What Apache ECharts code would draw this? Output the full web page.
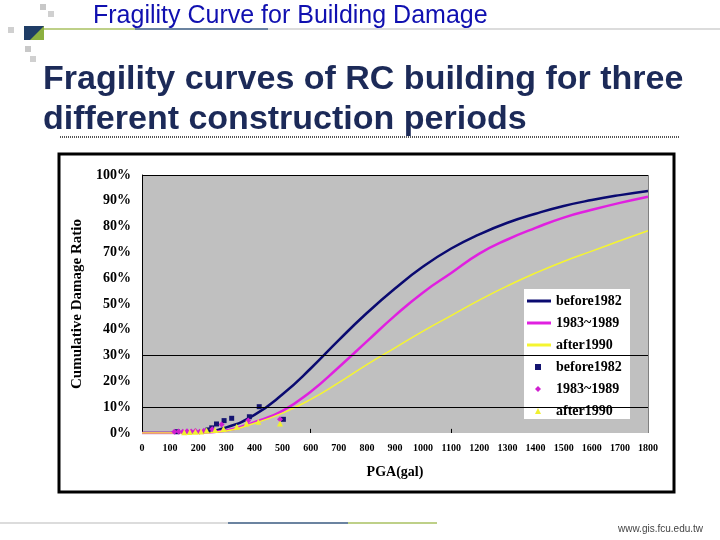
<!DOCTYPE html>
<html>
<head>
<meta charset="utf-8">
<script src="https://cdn.jsdelivr.net/npm/echarts@6/dist/echarts.min.js"></script>
<style>
  html, body { margin: 0; padding: 0; background: #fff; }
  #chart { width: 720px; height: 540px; }
</style>
</head>
<body>
<div id="chart"></div>
<script>
  // PGA (gal) sample points for the fitted curves
  const pga = [0, 100, 200, 300, 400, 500, 600, 700, 800, 900, 1000, 1100, 1200, 1300, 1400, 1500, 1600, 1700, 1800];
  // cumulative damage ratio (%)
  const curveBefore1982 = [0, 0, 0.3, 2.2, 7, 15, 25, 36, 46.5, 56, 64.5, 71.5, 77, 81.5, 85, 88, 90.3, 92.2, 93.8];
  const curve1983to1989 = [0, 0, 0.1, 1, 4.2, 8.6, 16, 25.5, 35.5, 45.5, 54.5, 62, 69.5, 75, 79.5, 83.5, 86.5, 89.2, 91.6];
  const curveAfter1990 = [0, 0, 0.1, 0.8, 3.8, 7.7, 13, 19.5, 26.5, 33, 39.5, 45.5, 51.5, 57, 62, 66.5, 70.5, 74.5, 78.4];

  // observed points [PGA, %]
  const obsBefore1982 = [[125, 0.5], [235, 1.2], [248, 2], [265, 3.5], [292, 4.8], [319, 5.7], [382, 6.3], [417, 10.2], [503, 5.3]];
  const obs1983to1989 = [[115, 0.5], [130, 0.6], [145, 0.5], [160, 0.7], [175, 0.6], [190, 0.8], [205, 0.5], [220, 0.9], [250, 1.5], [283, 3.3], [378, 4.8], [491, 5.3]];
  const obsAfter1990 = [[150, 0.3], [170, 0.4], [190, 0.5], [210, 0.6], [230, 1.0], [260, 1.2], [290, 1.6], [337, 2.4], [372, 3.7], [414, 4.4], [491, 3.7]];

  const gridLines = [10, 30];
  const stubTicks = [600, 1100];
  const lineNames = ['before1982', '1983~1989', 'after1990'];
  const pointNames = ['before1982 ', '1983~1989 ', 'after1990 '];

  const pairs = (ys) => pga.map((x, i) => [x, ys[i]]);
  const serif = '"Liberation Serif", "DejaVu Serif", serif';
  const legendText = { fontFamily: serif, fontWeight: 'bold', fontSize: 14, color: '#000' };

  const myChart = echarts.init(document.getElementById('chart'));

  myChart.setOption({
    backgroundColor: '#ffffff',
    animation: false,
    graphic: [
      // chart frame
      { type: 'rect', z: -10, shape: { x: 59, y: 154, width: 615, height: 338 },
        style: { fill: '#fff', stroke: '#000', lineWidth: 3 } },
      // legend box
      { type: 'rect', z: 3, shape: { x: 524, y: 289, width: 106, height: 130 },
        style: { fill: '#fff' } },
      // header
      { type: 'text', left: 93, top: 4,
        style: { text: 'Fragility Curve for Building Damage', fill: '#1010b0',
          font: '25px "Liberation Sans", Arial, sans-serif' } },
      { type: 'line', shape: { x1: 37, y1: 29, x2: 135, y2: 29 }, style: { stroke: '#a8c060', lineWidth: 1.5 } },
      { type: 'line', shape: { x1: 135, y1: 29, x2: 268, y2: 29 }, style: { stroke: '#3a5a80', lineWidth: 1.5 } },
      { type: 'line', shape: { x1: 268, y1: 29, x2: 720, y2: 29 }, style: { stroke: '#d0d0d0', lineWidth: 1.5 } },
      // logo squares
      { type: 'rect', shape: { x: 40, y: 4, width: 6, height: 6 }, style: { fill: '#c8c8c8' } },
      { type: 'rect', shape: { x: 48, y: 11, width: 6, height: 6 }, style: { fill: '#d0d0d0' } },
      { type: 'rect', shape: { x: 8, y: 27, width: 6, height: 6 }, style: { fill: '#d0d0d0' } },
      { type: 'rect', shape: { x: 25, y: 46, width: 6, height: 6 }, style: { fill: '#c8c8c8' } },
      { type: 'rect', shape: { x: 30, y: 56, width: 6, height: 6 }, style: { fill: '#d0d0d0' } },
      { type: 'rect', shape: { x: 24, y: 26, width: 20, height: 14 }, style: { fill: '#1f3d66' } },
      { type: 'polygon', shape: { points: [[30, 40], [44, 26], [44, 40]] }, style: { fill: '#8cb040' } },
      // main heading
      { type: 'text', left: 43, top: 60,
        style: { text: 'Fragility curves of RC building for three\ndifferent construction periods',
          fill: '#1c2a58', font: 'bold 34px "Liberation Sans", Arial, sans-serif', lineHeight: 40 } },
      { type: 'line', shape: { x1: 60, y1: 137, x2: 680, y2: 137 },
        style: { stroke: '#555', lineWidth: 2, lineDash: [1, 1] } },
      // footer
      { type: 'line', shape: { x1: 0, y1: 523, x2: 228, y2: 523 }, style: { stroke: '#d0d0d0', lineWidth: 1.5 } },
      { type: 'line', shape: { x1: 228, y1: 523, x2: 348, y2: 523 }, style: { stroke: '#3a5a80', lineWidth: 1.5 } },
      { type: 'line', shape: { x1: 348, y1: 523, x2: 437, y2: 523 }, style: { stroke: '#a8c060', lineWidth: 1.5 } },
      { type: 'text', left: 618, top: 524,
        style: { text: 'www.gis.fcu.edu.tw', fill: '#444', font: '10px "Liberation Sans", Arial, sans-serif' } }
    ],
    grid: {
      left: 142,
      top: 175,
      width: 506,
      height: 258,
      show: true,
      backgroundColor: '#c0c0c0',
      borderWidth: 0
    },
    legend: [
      {
        orient: 'vertical',
        left: 527,
        top: 294,
        padding: 0,
        icon: 'rect',
        itemWidth: 24,
        itemHeight: 3,
        itemGap: 8,
        textStyle: legendText,
        data: lineNames
      },
      {
        orient: 'vertical',
        left: 535,
        top: 360,
        padding: 0,
        itemWidth: 6,
        itemHeight: 6,
        itemGap: 8,
        textStyle: Object.assign({ padding: [0, 0, 0, 10] }, legendText),
        data: pointNames
      }
    ],
    xAxis: {
      type: 'value',
      min: 0,
      max: 1800,
      interval: 100,
      name: 'PGA(gal)',
      nameLocation: 'middle',
      nameGap: 32,
      nameTextStyle: { fontFamily: serif, fontWeight: 'bold', fontSize: 14, color: '#000' },
      axisLine: { show: false },
      axisTick: { show: false },
      splitLine: { show: false },
      axisLabel: { fontFamily: serif, fontWeight: 'bold', fontSize: 10, color: '#000', margin: 10,
        formatter: (v) => String(v) }
    },
    yAxis: {
      type: 'value',
      min: 0,
      max: 100,
      interval: 10,
      name: 'Cumulative Damage Ratio',
      nameLocation: 'middle',
      nameGap: 53,
      nameTextStyle: { fontFamily: serif, fontWeight: 'bold', fontSize: 15, color: '#000' },
      axisLine: { show: true, lineStyle: { color: '#000', width: 1 } },
      axisTick: { show: false },
      splitLine: { show: false },
      axisLabel: { fontFamily: serif, fontWeight: 'bold', fontSize: 14, color: '#000', margin: 11,
        formatter: '{value}%' }
    },
    series: [
      {
        name: lineNames[0],
        type: 'line',
        smooth: true,
        symbol: 'none',
        data: pairs(curveBefore1982),
        lineStyle: { color: '#0a0a70', width: 2.5 },
        itemStyle: { color: '#0a0a70' },
        markLine: {
          silent: true,
          symbol: 'none',
          label: { show: false },
          lineStyle: { color: '#000', width: 1, type: 'solid' },
          data: gridLines.map((v) => ({ yAxis: v })).concat([
            { yAxis: 100 },
            { xAxis: 1800, lineStyle: { color: '#808080', width: 1, type: 'solid' } }
          ]).concat(stubTicks.map((t) => [{ coord: [t, 0] }, { coord: [t, 1.6] }]))
        },
        z: 2
      },
      {
        name: lineNames[1],
        type: 'line',
        smooth: true,
        symbol: 'none',
        data: pairs(curve1983to1989),
        lineStyle: { color: '#e020e0', width: 2.5 },
        itemStyle: { color: '#e020e0' },
        z: 2
      },
      {
        name: lineNames[2],
        type: 'line',
        smooth: true,
        symbol: 'none',
        data: pairs(curveAfter1990),
        lineStyle: { color: '#f5f530', width: 1.5 },
        itemStyle: { color: '#f5f530' },
        z: 2
      },
      {
        name: pointNames[0],
        type: 'scatter',
        symbol: 'rect',
        symbolSize: 5,
        data: obsBefore1982,
        itemStyle: { color: '#141470', opacity: 1 },
        z: 2
      },
      {
        name: pointNames[1],
        type: 'scatter',
        symbol: 'diamond',
        symbolSize: 6,
        data: obs1983to1989,
        itemStyle: { color: '#d020d0', opacity: 1 },
        z: 2
      },
      {
        name: pointNames[2],
        type: 'scatter',
        symbol: 'triangle',
        symbolSize: 6,
        data: obsAfter1990,
        itemStyle: { color: '#f0f030', opacity: 1 },
        z: 2
      }
    ]
  });

  window.addEventListener('resize', function () {
    myChart && myChart.resize();
  });
</script>
</body>
</html>
